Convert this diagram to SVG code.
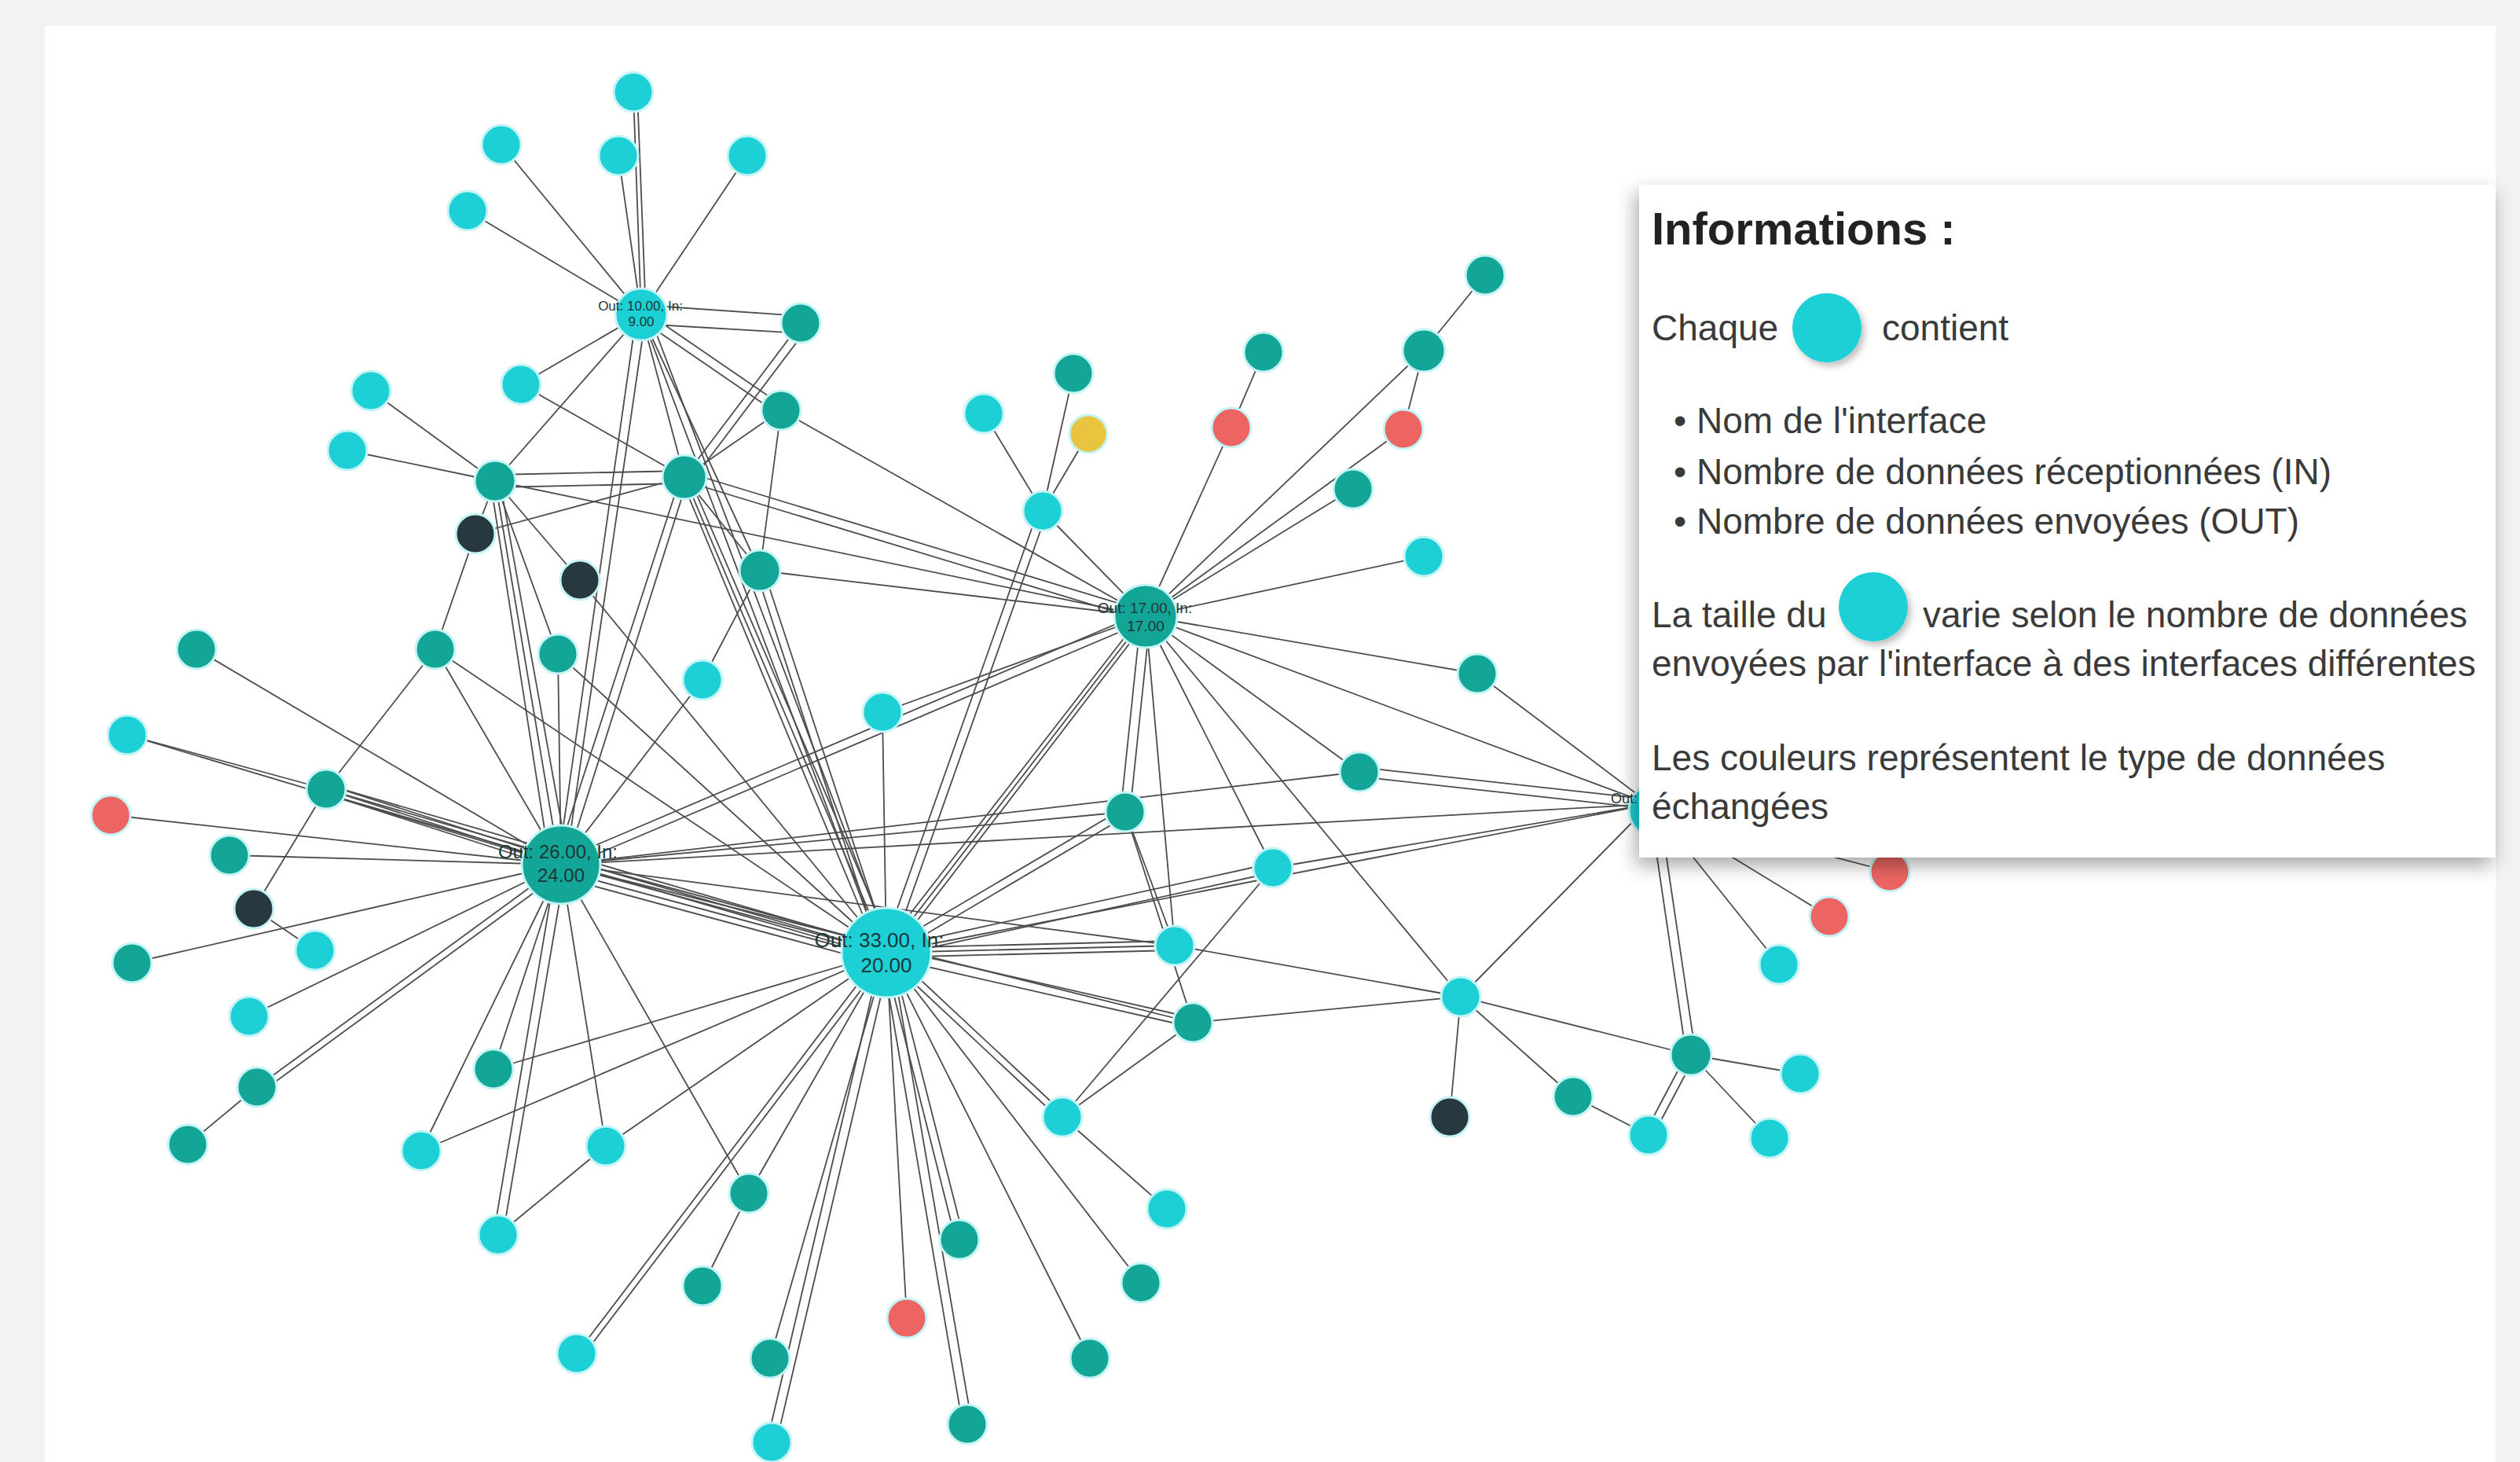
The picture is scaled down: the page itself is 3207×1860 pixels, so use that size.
<svg xmlns="http://www.w3.org/2000/svg" width="3207" height="1860" viewBox="0 0 3207 1860">
<defs>
<style>
.cy{fill:#1dd0d6}.tl{fill:#13a595}.dk{fill:#27393e}.rd{fill:#ec6562}.yl{fill:#e8c440}
.node circle{stroke:#c4f4f6;stroke-width:3}
#edges line{stroke:#4d4d4d;stroke-width:1.8}
.hl{font-family:"Liberation Sans",Arial,sans-serif;fill:#1d3739;text-anchor:middle}
.pt{font-family:"Liberation Sans",Arial,sans-serif;fill:#3a3a3a;font-size:46px}
</style>
<filter id="psh" x="-10%" y="-10%" width="120%" height="125%"><feDropShadow dx="-4" dy="10" stdDeviation="12" flood-color="#000" flood-opacity="0.35"/></filter>
<filter id="csh" x="-30%" y="-30%" width="170%" height="170%"><feDropShadow dx="4" dy="5" stdDeviation="4" flood-color="#000" flood-opacity="0.25"/></filter>
</defs>
<rect x="0" y="0" width="3207" height="1860" fill="#f2f2f2"/>
<rect x="57" y="33" width="3119" height="1827" fill="#ffffff"/>
<g id="edges">
<line x1="806" y1="117" x2="816" y2="400"/><line x1="811" y1="117" x2="822" y2="400"/>
<line x1="787" y1="198" x2="816" y2="400"/><line x1="638" y1="184" x2="816" y2="400"/>
<line x1="951" y1="198" x2="816" y2="400"/><line x1="595" y1="268" x2="816" y2="400"/>
<line x1="816" y1="388" x2="1019" y2="402"/><line x1="816" y1="412" x2="1019" y2="424"/>
<line x1="819" y1="395" x2="997" y2="517"/><line x1="813" y1="405" x2="991" y2="527"/>
<line x1="816" y1="400" x2="871" y2="607"/><line x1="816" y1="400" x2="630" y2="612"/>
<line x1="816" y1="400" x2="663" y2="489"/>
<line x1="810" y1="400" x2="710" y2="1100"/><line x1="822" y1="400" x2="720" y2="1100"/>
<line x1="816" y1="400" x2="1122" y2="1212"/><line x1="826" y1="400" x2="1134" y2="1212"/>
<line x1="816" y1="400" x2="967" y2="726"/>
<line x1="1019" y1="411" x2="871" y2="607"/><line x1="1027" y1="418" x2="879" y2="614"/>
<line x1="994" y1="522" x2="871" y2="607"/><line x1="994" y1="522" x2="967" y2="726"/>
<line x1="994" y1="522" x2="1458" y2="784"/><line x1="663" y1="489" x2="871" y2="607"/>
<line x1="472" y1="497" x2="630" y2="612"/><line x1="442" y1="573" x2="630" y2="612"/>
<line x1="630" y1="604" x2="871" y2="599"/><line x1="630" y1="620" x2="871" y2="615"/>
<line x1="605" y1="679" x2="871" y2="607"/><line x1="605" y1="679" x2="630" y2="612"/>
<line x1="605" y1="679" x2="554" y2="826"/><line x1="630" y1="612" x2="738" y2="738"/>
<line x1="738" y1="738" x2="1128" y2="1212"/>
<line x1="624" y1="612" x2="700" y2="1100"/><line x1="630" y1="612" x2="712" y2="1100"/><line x1="636" y1="612" x2="724" y2="1100"/>
<line x1="630" y1="612" x2="710" y2="832"/>
<line x1="866" y1="607" x2="706" y2="1100"/><line x1="876" y1="607" x2="720" y2="1100"/>
<line x1="866" y1="607" x2="1118" y2="1212"/><line x1="871" y1="607" x2="1128" y2="1212"/><line x1="877" y1="607" x2="1138" y2="1212"/>
<line x1="871" y1="607" x2="967" y2="726"/>
<line x1="871" y1="600" x2="1458" y2="778"/><line x1="871" y1="612" x2="1458" y2="790"/>
<line x1="630" y1="612" x2="1458" y2="784"/><line x1="967" y1="726" x2="1458" y2="784"/>
<line x1="962" y1="726" x2="1120" y2="1212"/><line x1="972" y1="726" x2="1132" y2="1212"/>
<line x1="967" y1="726" x2="894" y2="865"/><line x1="894" y1="865" x2="714" y2="1100"/>
<line x1="250" y1="826" x2="714" y2="1100"/><line x1="554" y1="826" x2="714" y2="1100"/>
<line x1="554" y1="826" x2="415" y2="1004"/><line x1="554" y1="826" x2="1128" y2="1212"/>
<line x1="710" y1="832" x2="714" y2="1100"/><line x1="710" y1="832" x2="1128" y2="1212"/>
<line x1="162" y1="935" x2="415" y2="1004"/><line x1="162" y1="935" x2="714" y2="1100"/>
<line x1="415" y1="998" x2="714" y2="1094"/><line x1="415" y1="1004" x2="714" y2="1100"/><line x1="415" y1="1010" x2="714" y2="1106"/>
<line x1="415" y1="998" x2="1128" y2="1206"/><line x1="415" y1="1004" x2="1128" y2="1212"/><line x1="415" y1="1010" x2="1128" y2="1218"/>
<line x1="415" y1="1004" x2="323" y2="1156"/><line x1="141" y1="1037" x2="714" y2="1100"/>
<line x1="292" y1="1088" x2="714" y2="1100"/><line x1="323" y1="1156" x2="401" y2="1209"/>
<line x1="168" y1="1225" x2="714" y2="1100"/>
<line x1="1123" y1="906" x2="1128" y2="1212"/><line x1="1123" y1="906" x2="1458" y2="784"/>
<line x1="714" y1="1094" x2="1458" y2="778"/><line x1="714" y1="1106" x2="1458" y2="790"/>
<line x1="714" y1="1092" x2="1128" y2="1204"/><line x1="714" y1="1100" x2="1128" y2="1212"/><line x1="714" y1="1108" x2="1128" y2="1220"/><line x1="714" y1="1116" x2="1128" y2="1228"/>
<line x1="317" y1="1293" x2="714" y2="1100"/>
<line x1="327" y1="1383" x2="714" y2="1100"/><line x1="333" y1="1389" x2="720" y2="1106"/>
<line x1="327" y1="1383" x2="239" y2="1456"/>
<line x1="628" y1="1360" x2="1128" y2="1212"/><line x1="628" y1="1360" x2="714" y2="1100"/>
<line x1="536" y1="1464" x2="714" y2="1100"/><line x1="536" y1="1464" x2="1128" y2="1212"/>
<line x1="771" y1="1458" x2="714" y2="1100"/><line x1="771" y1="1458" x2="1128" y2="1212"/>
<line x1="771" y1="1458" x2="634" y2="1571"/>
<line x1="628" y1="1571" x2="708" y2="1100"/><line x1="640" y1="1571" x2="720" y2="1100"/>
<line x1="953" y1="1518" x2="714" y2="1100"/><line x1="953" y1="1518" x2="1128" y2="1212"/>
<line x1="953" y1="1518" x2="894" y2="1636"/>
<line x1="734" y1="1722" x2="1122" y2="1212"/><line x1="744" y1="1722" x2="1132" y2="1212"/>
<line x1="980" y1="1728" x2="1128" y2="1212"/>
<line x1="976" y1="1835" x2="1122" y2="1212"/><line x1="988" y1="1835" x2="1134" y2="1212"/>
<line x1="1154" y1="1677" x2="1128" y2="1212"/>
<line x1="1216" y1="1577" x2="1124" y2="1212"/><line x1="1227" y1="1577" x2="1134" y2="1212"/>
<line x1="1225" y1="1812" x2="1122" y2="1212"/><line x1="1237" y1="1812" x2="1134" y2="1212"/>
<line x1="1387" y1="1728" x2="1128" y2="1212"/><line x1="1452" y1="1632" x2="1128" y2="1212"/>
<line x1="1352" y1="1415" x2="1128" y2="1206"/><line x1="1352" y1="1427" x2="1128" y2="1218"/>
<line x1="1352" y1="1421" x2="1485" y2="1538"/><line x1="1352" y1="1421" x2="1620" y2="1104"/>
<line x1="1352" y1="1421" x2="1518" y2="1301"/>
<line x1="1518" y1="1295" x2="1128" y2="1206"/><line x1="1518" y1="1307" x2="1128" y2="1218"/>
<line x1="1495" y1="1197" x2="1128" y2="1206"/><line x1="1495" y1="1203" x2="1128" y2="1212"/><line x1="1495" y1="1209" x2="1128" y2="1218"/>
<line x1="1495" y1="1203" x2="1859" y2="1268"/><line x1="1518" y1="1301" x2="1859" y2="1268"/>
<line x1="1432" y1="1027" x2="1128" y2="1206"/><line x1="1432" y1="1039" x2="1128" y2="1218"/>
<line x1="1432" y1="1033" x2="1495" y2="1203"/><line x1="1432" y1="1033" x2="1518" y2="1301"/>
<line x1="1426" y1="1033" x2="1452" y2="784"/><line x1="1438" y1="1033" x2="1464" y2="784"/>
<line x1="1620" y1="1098" x2="1128" y2="1206"/><line x1="1620" y1="1110" x2="1128" y2="1218"/>
<line x1="1620" y1="1104" x2="2100" y2="1023"/><line x1="1620" y1="1104" x2="1458" y2="784"/>
<line x1="1859" y1="1268" x2="2100" y2="1023"/><line x1="1859" y1="1268" x2="1845" y2="1421"/>
<line x1="1859" y1="1268" x2="2002" y2="1395"/><line x1="1859" y1="1268" x2="2152" y2="1342"/>
<line x1="1859" y1="1268" x2="1458" y2="784"/>
<line x1="2002" y1="1395" x2="2098" y2="1444"/>
<line x1="2092" y1="1444" x2="2146" y2="1342"/><line x1="2104" y1="1444" x2="2158" y2="1342"/>
<line x1="2152" y1="1342" x2="2291" y2="1366"/><line x1="2152" y1="1342" x2="2252" y2="1448"/>
<line x1="2146" y1="1342" x2="2100" y2="1031"/><line x1="2158" y1="1342" x2="2112" y2="1031"/>
<line x1="2264" y1="1227" x2="2107" y2="1031"/><line x1="2328" y1="1166" x2="2107" y2="1031"/>
<line x1="2405" y1="1109" x2="2107" y2="1031"/>
<line x1="1452" y1="784" x2="1120" y2="1212"/><line x1="1458" y1="784" x2="1128" y2="1212"/><line x1="1464" y1="784" x2="1136" y2="1212"/>
<line x1="1458" y1="784" x2="1495" y2="1203"/><line x1="1458" y1="784" x2="2100" y2="1023"/>
<line x1="1458" y1="784" x2="1327" y2="650"/>
<line x1="1327" y1="650" x2="1252" y2="526"/><line x1="1327" y1="650" x2="1366" y2="475"/><line x1="1327" y1="650" x2="1385" y2="552"/>
<line x1="1321" y1="650" x2="1122" y2="1212"/><line x1="1333" y1="650" x2="1134" y2="1212"/>
<line x1="1608" y1="448" x2="1567" y2="544"/><line x1="1567" y1="544" x2="1458" y2="784"/>
<line x1="1812" y1="446" x2="1890" y2="350"/><line x1="1812" y1="446" x2="1458" y2="784"/>
<line x1="1812" y1="446" x2="1786" y2="546"/><line x1="1786" y1="546" x2="1458" y2="784"/>
<line x1="1722" y1="622" x2="1458" y2="784"/><line x1="1812" y1="708" x2="1458" y2="784"/>
<line x1="1880" y1="857" x2="1458" y2="784"/><line x1="1880" y1="857" x2="2100" y2="1023"/>
<line x1="1730" y1="982" x2="1458" y2="784"/>
<line x1="1730" y1="976" x2="2100" y2="1017"/><line x1="1730" y1="988" x2="2100" y2="1029"/>
<line x1="714" y1="1100" x2="1730" y2="982"/><line x1="714" y1="1100" x2="2100" y2="1023"/>
<line x1="1128" y1="1212" x2="2100" y2="1023"/>
<line x1="714" y1="1100" x2="1432" y2="1033"/><line x1="714" y1="1100" x2="1495" y2="1203"/>
<line x1="714" y1="1100" x2="1518" y2="1301"/>
</g>
<g id="n1" class="node"><circle class="cy" cx="806" cy="117" r="25"/></g>
<g id="n2" class="node"><circle class="cy" cx="638" cy="184" r="25"/></g>
<g id="n3" class="node"><circle class="cy" cx="787" cy="198" r="25"/></g>
<g id="n4" class="node"><circle class="cy" cx="951" cy="198" r="25"/></g>
<g id="n5" class="node"><circle class="cy" cx="595" cy="268" r="25"/></g>
<g id="n7" class="node"><circle class="tl" cx="1019" cy="411" r="25"/></g>
<g id="n8" class="node"><circle class="cy" cx="472" cy="497" r="25"/></g>
<g id="n9" class="node"><circle class="cy" cx="663" cy="489" r="25"/></g>
<g id="n10" class="node"><circle class="tl" cx="994" cy="522" r="25"/></g>
<g id="n11" class="node"><circle class="cy" cx="442" cy="573" r="25"/></g>
<g id="n12" class="node"><circle class="tl" cx="630" cy="612" r="26"/></g>
<g id="n13" class="node"><circle class="tl" cx="871" cy="607" r="28"/></g>
<g id="n14" class="node"><circle class="dk" cx="605" cy="679" r="25"/></g>
<g id="n15" class="node"><circle class="dk" cx="738" cy="738" r="25"/></g>
<g id="n16" class="node"><circle class="tl" cx="967" cy="726" r="26"/></g>
<g id="n17" class="node"><circle class="tl" cx="250" cy="826" r="25"/></g>
<g id="n18" class="node"><circle class="tl" cx="554" cy="826" r="25"/></g>
<g id="n19" class="node"><circle class="tl" cx="710" cy="832" r="25"/></g>
<g id="n20" class="node"><circle class="cy" cx="894" cy="865" r="25"/></g>
<g id="n21" class="node"><circle class="cy" cx="162" cy="935" r="25"/></g>
<g id="n22" class="node"><circle class="cy" cx="1123" cy="906" r="25"/></g>
<g id="n23" class="node"><circle class="tl" cx="415" cy="1004" r="25"/></g>
<g id="n24" class="node"><circle class="rd" cx="141" cy="1037" r="25"/></g>
<g id="n25" class="node"><circle class="tl" cx="292" cy="1088" r="25"/></g>
<g id="n27" class="node"><circle class="dk" cx="323" cy="1156" r="25"/></g>
<g id="n28" class="node"><circle class="cy" cx="401" cy="1209" r="25"/></g>
<g id="n29" class="node"><circle class="tl" cx="168" cy="1225" r="25"/></g>
<g id="n30" class="node"><circle class="cy" cx="317" cy="1293" r="25"/></g>
<g id="n31" class="node"><circle class="tl" cx="327" cy="1383" r="25"/></g>
<g id="n32" class="node"><circle class="tl" cx="239" cy="1456" r="25"/></g>
<g id="n33" class="node"><circle class="tl" cx="628" cy="1360" r="25"/></g>
<g id="n34" class="node"><circle class="cy" cx="536" cy="1464" r="25"/></g>
<g id="n35" class="node"><circle class="cy" cx="771" cy="1458" r="25"/></g>
<g id="n36" class="node"><circle class="cy" cx="634" cy="1571" r="25"/></g>
<g id="n37" class="node"><circle class="tl" cx="953" cy="1518" r="25"/></g>
<g id="n38" class="node"><circle class="cy" cx="734" cy="1722" r="25"/></g>
<g id="n39" class="node"><circle class="tl" cx="894" cy="1636" r="25"/></g>
<g id="n40" class="node"><circle class="tl" cx="980" cy="1728" r="25"/></g>
<g id="n41" class="node"><circle class="cy" cx="982" cy="1835" r="25"/></g>
<g id="n43" class="node"><circle class="rd" cx="1154" cy="1677" r="25"/></g>
<g id="n44" class="node"><circle class="tl" cx="1221" cy="1577" r="25"/></g>
<g id="n45" class="node"><circle class="tl" cx="1231" cy="1812" r="25"/></g>
<g id="n46" class="node"><circle class="cy" cx="1352" cy="1421" r="25"/></g>
<g id="n47" class="node"><circle class="tl" cx="1387" cy="1728" r="25"/></g>
<g id="n48" class="node"><circle class="tl" cx="1452" cy="1632" r="25"/></g>
<g id="n49" class="node"><circle class="cy" cx="1485" cy="1538" r="25"/></g>
<g id="n50" class="node"><circle class="tl" cx="1518" cy="1301" r="25"/></g>
<g id="n51" class="node"><circle class="cy" cx="1495" cy="1203" r="25"/></g>
<g id="n52" class="node"><circle class="tl" cx="1432" cy="1033" r="25"/></g>
<g id="n53" class="node"><circle class="cy" cx="1620" cy="1104" r="25"/></g>
<g id="n54" class="node"><circle class="tl" cx="1730" cy="982" r="25"/></g>
<g id="n55" class="node"><circle class="cy" cx="1859" cy="1268" r="25"/></g>
<g id="n56" class="node"><circle class="dk" cx="1845" cy="1421" r="25"/></g>
<g id="n57" class="node"><circle class="tl" cx="2002" cy="1395" r="25"/></g>
<g id="n58" class="node"><circle class="cy" cx="2098" cy="1444" r="25"/></g>
<g id="n59" class="node"><circle class="tl" cx="2152" cy="1342" r="26"/></g>
<g id="n60" class="node"><circle class="cy" cx="2291" cy="1366" r="25"/></g>
<g id="n61" class="node"><circle class="cy" cx="2252" cy="1448" r="25"/></g>
<g id="n62" class="node"><circle class="cy" cx="2264" cy="1227" r="25"/></g>
<g id="n63" class="node"><circle class="rd" cx="2328" cy="1166" r="25"/></g>
<g id="n64" class="node"><circle class="rd" cx="2405" cy="1109" r="25"/></g>
<g id="n67" class="node"><circle class="cy" cx="1327" cy="650" r="25"/></g>
<g id="n68" class="node"><circle class="cy" cx="1252" cy="526" r="25"/></g>
<g id="n69" class="node"><circle class="tl" cx="1366" cy="475" r="25"/></g>
<g id="n70" class="node"><circle class="yl" cx="1385" cy="552" r="24"/></g>
<g id="n71" class="node"><circle class="tl" cx="1608" cy="448" r="25"/></g>
<g id="n72" class="node"><circle class="rd" cx="1567" cy="544" r="25"/></g>
<g id="n73" class="node"><circle class="tl" cx="1812" cy="446" r="27"/></g>
<g id="n74" class="node"><circle class="tl" cx="1890" cy="350" r="25"/></g>
<g id="n75" class="node"><circle class="rd" cx="1786" cy="546" r="25"/></g>
<g id="n76" class="node"><circle class="tl" cx="1722" cy="622" r="25"/></g>
<g id="n77" class="node"><circle class="cy" cx="1812" cy="708" r="25"/></g>
<g id="n78" class="node"><circle class="tl" cx="1880" cy="857" r="25"/></g>
<g id="hubX" class="node"><circle class="cy" cx="2107" cy="1031" r="34"/><text class="hl" x="2050" y="1022" font-size="18" style="text-anchor:start">Out:</text></g>
<g id="hub10" class="node"><circle class="cy" cx="816" cy="400" r="33"/><text class="hl" x="815" y="395" font-size="17">Out: 10.00, In:</text><text class="hl" x="816" y="415" font-size="17">9.00</text></g>
<g id="hub17" class="node"><circle class="tl" cx="1458" cy="784" r="40"/><text class="hl" x="1457" y="780" font-size="19">Out: 17.00, In:</text><text class="hl" x="1458" y="803" font-size="19">17.00</text></g>
<g id="hub26" class="node"><circle class="tl" cx="714" cy="1100" r="50"/><text class="hl" x="710" y="1092" font-size="24">Out: 26.00, In:</text><text class="hl" x="714" y="1122" font-size="24">24.00</text></g>
<g id="hub33" class="node"><circle class="cy" cx="1128" cy="1212" r="57"/><text class="hl" x="1119" y="1205" font-size="26">Out: 33.00, In:</text><text class="hl" x="1128" y="1237" font-size="26">20.00</text></g>
<g id="legend">
<rect x="2086" y="235" width="1090" height="856" fill="#ffffff" filter="url(#psh)"/>
<text x="2102" y="311" font-family="Liberation Sans, Arial, sans-serif" font-weight="bold" font-size="58" fill="#222">Informations :</text>
<text class="pt" x="2102" y="433">Chaque</text>
<circle cx="2325" cy="417" r="44" fill="#1dd0d6" filter="url(#csh)"/>
<text class="pt" x="2395" y="433">contient</text>
<text class="pt" x="2130" y="551" font-size="30">•</text><text class="pt" x="2159" y="551">Nom de l'interface</text>
<text class="pt" x="2130" y="616" font-size="30">•</text><text class="pt" x="2159" y="616">Nombre de données réceptionnées (IN)</text>
<text class="pt" x="2130" y="679" font-size="30">•</text><text class="pt" x="2159" y="679">Nombre de données envoyées (OUT)</text>
<text class="pt" x="2102" y="798">La taille du</text>
<circle cx="2384" cy="772" r="44" fill="#1dd0d6" filter="url(#csh)"/>
<text class="pt" x="2447" y="798">varie selon le nombre de données</text>
<text class="pt" x="2102" y="860">envoyées par l'interface à des interfaces différentes</text>
<text class="pt" x="2102" y="980">Les couleurs représentent le type de données</text>
<text class="pt" x="2102" y="1042">échangées</text>
</g>
</svg>
